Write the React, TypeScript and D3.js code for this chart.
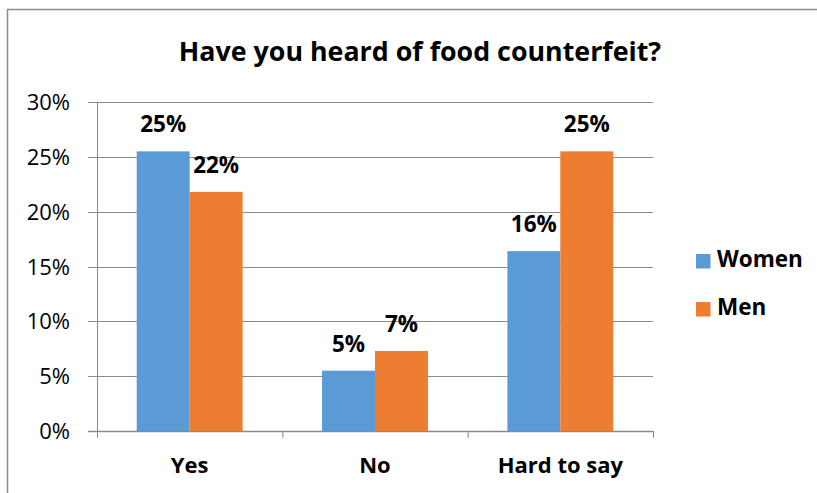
import React from "react";
import * as d3 from "d3";

const categories = ["Yes", "No", "Hard to say"];
const seriesNames = ["Women", "Men"];
const women = [0.255, 0.055, 0.164];
const men = [0.218, 0.073, 0.255];
const womenLabels = ["25%", "5%", "16%"];
const menLabels = ["22%", "7%", "25%"];
const yTicks = [0, 0.05, 0.1, 0.15, 0.2, 0.25, 0.3];
const colors = ["#5B9BD5", "#ED7D31"];
const title = "Have you heard of food counterfeit?";

const FONT = "'Open Sans', 'Liberation Sans', sans-serif";

export default function App() {
  const W = 817;
  const H = 493;
  const left = 97;
  const right = 653;
  const top = 102;
  const bottom = 431;

  const x0 = d3.scaleBand<string>().domain(categories).range([left, right]).paddingInner(0).paddingOuter(0);
  const x1 = d3.scaleBand<string>().domain(seriesNames).range([0, x0.bandwidth()]).paddingInner(0).paddingOuter(0.75);
  const y = d3.scaleLinear().domain([0, 0.3]).range([bottom, top]);
  const seriesValues = [women, men];
  const seriesLabels = [womenLabels, menLabels];
  const fmt = d3.format(".0%");

  return (
    <svg width={W} height={H} style={{ position: "absolute", left: 0, top: 0, background: "#fff" }}>
      <rect x={0} y={0} width={W} height={H} fill="#fff" />
      <path d={`M7.5,${H} L7.5,9.5 L${W},9.5`} fill="none" stroke="#8c8c8c" strokeWidth={1.5} />
      <text x={420} y={61} textAnchor="middle" fontFamily={FONT} fontWeight="bold" fontSize={26.8} fill="#000">
        {title}
      </text>
      {yTicks.map((t) => (
        <g key={t}>
          <line x1={left - 9} x2={right} y1={Math.round(y(t)) + 0.5} y2={Math.round(y(t)) + 0.5} stroke="#8a8a8a" strokeWidth={t === 0 ? 1.5 : 1} />
          <text x={70} y={y(t) + 8} textAnchor="end" fontFamily={FONT} fontSize={22} fill="#000">
            {fmt(t)}
          </text>
        </g>
      ))}
      <line x1={left + 0.5} x2={left + 0.5} y1={top} y2={bottom + 7} stroke="#8a8a8a" strokeWidth={1} />
      {categories.map((c) => (
        <line key={c} x1={x0(c)! + x0.bandwidth() + 0.5} x2={x0(c)! + x0.bandwidth() + 0.5} y1={bottom} y2={bottom + 7} stroke="#8a8a8a" strokeWidth={1} />
      ))}
      {categories.map((c, i) => (
        <g key={c}>
          {seriesNames.map((s, j) => {
            const v = seriesValues[j][i];
            const bx = x0(c)! + x1(s)!;
            return (
              <g key={s}>
                <rect x={bx} y={y(v)} width={x1.bandwidth()} height={y(0) - y(v)} fill={colors[j]} />
                <text x={bx + x1.bandwidth() / 2} y={y(v) - 19} textAnchor="middle" fontFamily={FONT} fontWeight="bold" fontSize={22.5} fill="#000">
                  {seriesLabels[j][i]}
                </text>
              </g>
            );
          })}
          <text x={x0(c)! + x0.bandwidth() / 2} y={473} textAnchor="middle" fontFamily={FONT} fontWeight="bold" fontSize={22} fill="#000">
            {c}
          </text>
        </g>
      ))}
      {seriesNames.map((s, j) => (
        <g key={s}>
          <rect x={696} y={254 + j * 48} width={14.5} height={14.5} fill={colors[j]} />
          <text x={717} y={267 + j * 48} fontFamily={FONT} fontWeight="bold" fontSize={22.5} fill="#000">
            {s}
          </text>
        </g>
      ))}
    </svg>
  );
}
